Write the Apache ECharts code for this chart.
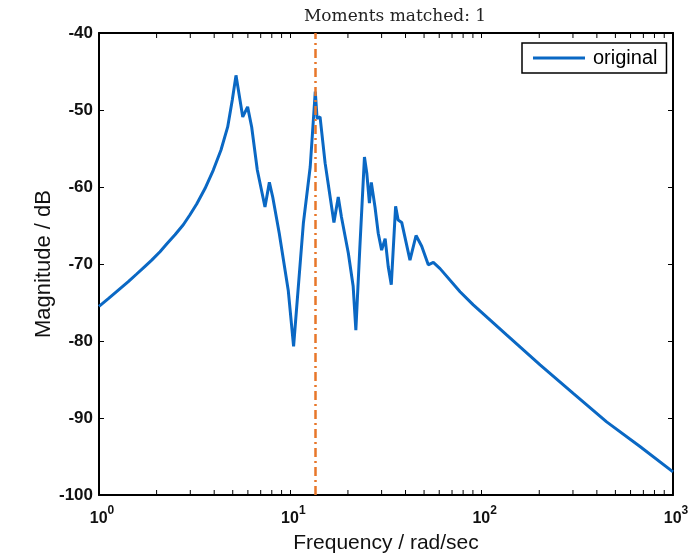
<!DOCTYPE html>
<html>
<head>
<meta charset="utf-8">
<script src="https://cdn.jsdelivr.net/npm/echarts@6/dist/echarts.min.js"></script>
<style>
    html, body {margin: 0; padding: 0; background: #fff;}
    #chart {width: 692px; height: 556px;}
</style>
</head>
<body>
<div id="chart"></div>
<script>
// frequency (rad/sec) and magnitude (dB)
let freq = [1, 1.119, 1.262, 1.423, 1.574, 1.74, 1.886, 2.084, 2.258, 2.496, 2.758, 2.989, 3.24, 3.581,
    3.958, 4.341, 4.705, 4.973, 5.2, 5.64, 5.98,
    6.28, 6.72, 7.37, 7.77, 8.09, 8.75, 9.75, 10.4, 11.7, 12.7, 13.5, 13.8, 14.3, 15.2, 16.9, 17.8,
    18.5, 20.1, 21.3, 22.0, 23.1, 24.4, 25.1, 25.9, 26.5, 27.7, 28.8, 30.0, 31.3, 32.5, 33.7, 35.5,
    36.6, 38.2, 42.2, 45.4, 48.6, 52.6, 55.9, 60.6, 77.1, 90.4, 135, 202, 301, 450, 672, 1000];
let magnitude = [-75.5, -74.5, -73.4, -72.3, -71.3, -70.3, -69.5, -68.4, -67.4, -66.2, -64.9, -63.6, -62.2, -60.2,
    -57.8, -55.2, -52.2, -48.7, -45.5, -50.9, -49.6,
    -52.2, -57.8, -62.6, -59.4, -61.3, -66.0, -73.4, -80.7, -64.7, -57.4, -47.6, -51.1, -50.9, -56.9, -64.6, -61.3,
    -63.9, -68.6, -72.9, -78.6, -67.7, -56.1, -58.2, -62.1, -59.4, -62.6, -66.0, -68.2, -66.7, -70.4, -72.7, -62.5,
    -64.3, -64.6, -69.5, -66.3, -67.7, -70.1, -69.8, -70.6, -73.6, -75.3, -79.2, -83.1, -86.8, -90.5, -93.7, -97.0];
let matchedFreq = 13.5;
let yTicks = [-100, -90, -80, -70, -60, -50, -40];
let minorFreqTicks = [2, 3, 4, 5, 6, 7, 8, 9, 20, 30, 40, 50, 60, 70, 80, 90, 200, 300, 400, 500, 600, 700, 800, 900];

let chart = echarts.init(document.getElementById('chart'));

let yMin = yTicks[0];
let yMax = yTicks[yTicks.length - 1];

let xAxisBase = {
    type: 'log',
    logBase: 10,
    min: 1,
    max: 1000,
    axisLine: {show: true, lineStyle: {color: '#000', width: 2}},
    axisTick: {show: true, inside: true, length: 5, lineStyle: {color: '#000', width: 1}},
    minorTick: {show: false},
    splitLine: {show: false}
};

let yAxisBase = {
    type: 'value',
    min: yMin,
    max: yMax,
    interval: 10,
    axisLine: {show: true, onZero: false, lineStyle: {color: '#000', width: 2}},
    axisTick: {show: true, inside: true, length: 5, lineStyle: {color: '#000', width: 1}},
    splitLine: {show: false}
};

// minor ticks of the log axis, top and bottom of the box
let renderMinorTick = (params, api) => {
    let bottom = api.coord([api.value(0), yMin]);
    let top = api.coord([api.value(0), yMax]);
    return {
        type: 'group',
        children: [
            {type: 'line', shape: {x1: bottom[0], y1: bottom[1], x2: bottom[0], y2: bottom[1] - 5},
                style: {stroke: '#000', lineWidth: 1}},
            {type: 'line', shape: {x1: top[0], y1: top[1], x2: top[0], y2: top[1] + 5},
                style: {stroke: '#000', lineWidth: 1}}
        ]
    };
};

let option = {
    backgroundColor: '#fff',
    animation: false,
    title: {
        text: 'Moments matched: 1',
        left: 390,
        top: 3,
        textAlign: 'center',
        textStyle: {
            fontFamily: 'DejaVu Serif',
            fontWeight: 'normal',
            fontSize: 17,
            color: '#222'
        }
    },
    legend: {
        data: [{name: 'original', icon: 'rect'}],
        left: 522,
        top: 43,
        padding: [5, 9, 5, 11],
        itemWidth: 52,
        itemHeight: 3,
        itemGap: 6,
        backgroundColor: '#fff',
        borderColor: '#000',
        borderWidth: 1.5,
        borderRadius: 0,
        textStyle: {
            fontFamily: 'Liberation Sans',
            fontSize: 20,
            color: '#000',
            padding: [0, 0, 0, 3]
        }
    },
    grid: {
        left: 99,
        right: 19,
        top: 33,
        bottom: 61,
        containLabel: false,
        outerBoundsMode: 'none'
    },
    xAxis: [
        Object.assign({}, xAxisBase, {
            position: 'bottom',
            name: 'Frequency / rad/sec',
            nameLocation: 'middle',
            nameGap: 38,
            nameMoveOverlap: false,
            nameTextStyle: {
                fontFamily: 'Liberation Sans',
                fontSize: 21,
                color: '#111'
            },
            axisLabel: {
                margin: 13,
                formatter: (v) => {
                    return '{b|10}{s|' + Math.round(Math.log10(v)) + '}';
                },
                rich: {
                    b: {fontFamily: 'Liberation Sans', fontWeight: 'bold', fontSize: 16, color: '#111',
                        lineHeight: 16, padding: [6, 0, 0, 6]},
                    s: {fontFamily: 'Liberation Sans', fontWeight: 'bold', fontSize: 12, color: '#111',
                        lineHeight: 12, padding: [0, 0, 10, 0]}
                }
            }
        }),
        Object.assign({}, xAxisBase, {
            position: 'top',
            axisLabel: {show: false}
        })
    ],
    yAxis: [
        Object.assign({}, yAxisBase, {
            position: 'left',
            name: 'Magnitude / dB',
            nameLocation: 'middle',
            nameGap: 44,
            nameMoveOverlap: false,
            nameRotate: 90,
            nameTextStyle: {
                fontFamily: 'Liberation Sans',
                fontSize: 22,
                color: '#111'
            },
            axisLabel: {
                margin: 6,
                color: '#111',
                fontFamily: 'Liberation Sans',
                fontWeight: 'bold',
                fontSize: 17
            }
        }),
        Object.assign({}, yAxisBase, {
            position: 'right',
            axisLabel: {show: false}
        })
    ],
    series: [
        {
            name: 'original',
            type: 'line',
            data: freq.map((f, i) => [f, magnitude[i]]),
            showSymbol: false,
            symbol: 'none',
            lineStyle: {color: '#0a68c4', width: 3},
            itemStyle: {color: '#0a68c4'},
            z: 3,
            markLine: {
                silent: true,
                symbol: 'none',
                label: {show: false},
                lineStyle: {color: '#e8772a', width: 2.5, type: [9, 4, 2, 4]},
                data: [{xAxis: matchedFreq}],
                z: 4
            }
        },
        {
            name: 'minorTicks',
            type: 'custom',
            coordinateSystem: 'cartesian2d',
            xAxisIndex: 0,
            yAxisIndex: 0,
            silent: true,
            clip: false,
            renderItem: renderMinorTick,
            encode: {x: 0, y: 1},
            data: minorFreqTicks.map((v) => [v, yMin]),
            z: 5
        }
    ]
};

chart.setOption(option);
</script>
</body>
</html>
